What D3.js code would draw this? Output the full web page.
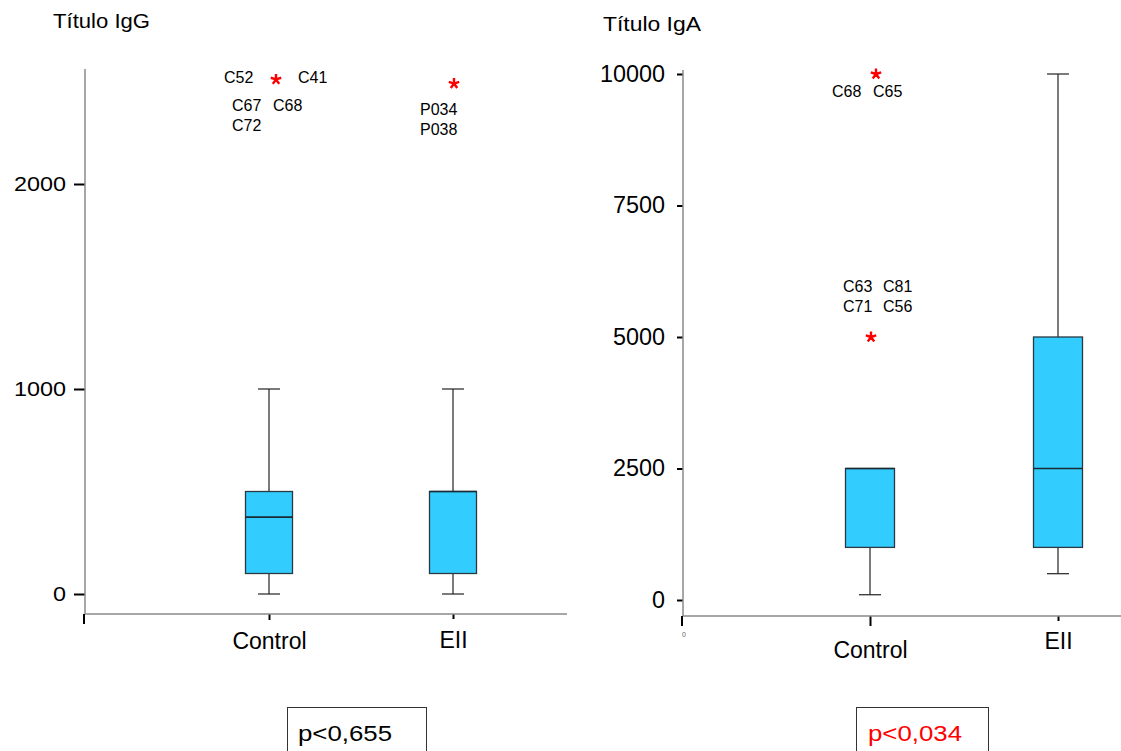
<!DOCTYPE html>
<html>
<head>
<meta charset="utf-8">
<script src="https://cdn.jsdelivr.net/npm/d3@7"></script>
<style>
  body { margin: 0; background: #fff; }
  svg { display: block; }
</style>
</head>
<body>
<script>
// données
const groups = ["Control", "EII"]

// IgG
const igGTicks = [0, 1000, 2000]
const igGLow = [0, 0]
const igGQ1 = [100, 100]
const igGMedian = [375, 500]
const igGQ3 = [500, 500]
const igGHigh = [1000, 1000]
const igGOutGroup = ["Control", "EII"]
const igGOutValue = [2510, 2490]
const igGOutLabels = [["C52", "C41", "C67", "C68", "C72"], ["P034", "P038"]]

// IgA
const igATicks = [0, 2500, 5000, 7500, 10000]
const igALow = [100, 500]
const igAQ1 = [1000, 1000]
const igAMedian = [2500, 2500]
const igAQ3 = [2500, 5000]
const igAHigh = [2500, 10000]
const igAOutGroup = ["Control", "Control"]
const igAOutValue = [10000, 5000]
const igAOutLabels = [["C68", "C65"], ["C63", "C81", "C71", "C56"]]

const pValues = ["p<0,655", "p<0,034"]
const pColors = ["#000", "#ff0000"]

const font = "'Liberation Sans', Arial, sans-serif"
const W = 1121, H = 751

const svg = d3.select("body").append("svg")
  .attr("width", W)
  .attr("height", H)
  .style("font-family", font)

// mise en page (décalages des étiquettes autour des astérisques)
const igGLabelOffsets = [
  [[-52, -2], [22, -2], [-44, 26], [-3, 26], [-44, 46]],
  [[-34, 25], [-34, 45]]
]
const igAStarShift = [6, 1]
const igGStarShift = [7, 1]
const igALabelOffsets = [
  [[-44, 17], [-3, 17]],
  [[-28, -51], [12, -51], [-28, -31], [12, -31]]
]

// astérisque à 5 branches
const asterisque = {
  draw(context, size) {
    const r = Math.sqrt(size) / 2
    for (let k = 0; k < 5; k++) {
      const a = -Math.PI / 2 + k * 2 * Math.PI / 5
      context.moveTo(0, 0)
      context.lineTo(r * Math.cos(a), r * Math.sin(a))
    }
  }
}

const panels = [
  {
    title: "Título IgG", titleX: 53, titleY: 28, titleLen: 97,
    axisX: 85, axisTop: 69, baseY: 614, axisRight: 567,
    yDomain: [0, 2000], yRange: [594, 184], xRange: [269, 453],
    ticks: igGTicks, tickLen: 11, tickPad: 8, tickFont: 21,
    boxW: 47, capW: 22, cornerTick: 10, catTicks: [6, 5], catDy: [2, 1],
    low: igGLow, q1: igGQ1, med: igGMedian, q3: igGQ3, high: igGHigh,
    outGroup: igGOutGroup, outValue: igGOutValue, outLabels: igGOutLabels,
    starShift: igGStarShift, labelOffsets: igGLabelOffsets,
    tinyZero: false
  },
  {
    title: "Título IgA", titleX: 603, titleY: 31, titleLen: 98,
    axisX: 683, axisTop: 70, baseY: 616, axisRight: 1121,
    yDomain: [0, 10000], yRange: [600, 74], xRange: [870, 1058],
    ticks: igATicks, tickLen: 6, tickPad: 12, tickFont: 23,
    boxW: 49, capW: 22, cornerTick: 10, catTicks: [10, 5], catDy: [9, 0],
    low: igALow, q1: igAQ1, med: igAMedian, q3: igAQ3, high: igAHigh,
    outGroup: igAOutGroup, outValue: igAOutValue, outLabels: igAOutLabels,
    starShift: igAStarShift, labelOffsets: igALabelOffsets,
    tinyZero: true
  }
]

panels.forEach(p => dessinerPanneau(p))

function dessinerPanneau(p) {
  const g = svg.append("g")

  const y = d3.scaleLinear().domain(p.yDomain).range(p.yRange)
  const x = d3.scalePoint().domain(groups).range(p.xRange)

  // titre
  g.append("text")
    .attr("x", p.titleX)
    .attr("y", p.titleY)
    .attr("font-size", 20)
    .attr("textLength", p.titleLen)
    .attr("lengthAdjust", "spacingAndGlyphs")
    .text(p.title)

  // axe Y
  const yAxis = d3.axisLeft(y)
    .tickValues(p.ticks)
    .tickFormat(d3.format("d"))
    .tickSize(p.tickLen)
    .tickPadding(p.tickPad)
  const gy = g.append("g")
    .attr("transform", "translate(" + p.axisX + ",0)")
    .call(yAxis)
  gy.select(".domain").remove()
  gy.selectAll(".tick line").attr("stroke", "#000").attr("stroke-width", 2)
  gy.selectAll(".tick text")
    .attr("fill", "#000")
    .attr("font-family", font)
    .attr("font-size", p.tickFont)
    .attr("textLength", d => String(d).length * 13)
    .attr("lengthAdjust", "spacingAndGlyphs")

  g.append("line")
    .attr("x1", p.axisX).attr("x2", p.axisX)
    .attr("y1", p.axisTop).attr("y2", p.baseY)
    .attr("stroke", "#8a8a8a").attr("stroke-width", 1.5)

  // axe X
  const xAxis = d3.axisBottom(x).tickSize(0).tickPadding(17)
  const gx = g.append("g")
    .attr("transform", "translate(0," + p.baseY + ")")
    .call(xAxis)
  gx.select(".domain").remove()
  gx.selectAll(".tick line").remove()
  gx.selectAll(".tick").append("line")
    .attr("y1", 0).attr("y2", (d, i) => p.catTicks[i])
    .attr("stroke", "#000").attr("stroke-width", 2)
  gx.selectAll(".tick text")
    .attr("fill", "#000")
    .attr("font-family", font)
    .attr("font-size", 23)
    .attr("y", (d, i) => 17 + p.catDy[i])

  g.append("line")
    .attr("x1", p.axisX).attr("x2", p.axisRight)
    .attr("y1", p.baseY).attr("y2", p.baseY)
    .attr("stroke", "#8a8a8a").attr("stroke-width", 1.5)
  g.append("line")
    .attr("x1", p.axisX - 1).attr("x2", p.axisX - 1)
    .attr("y1", p.baseY).attr("y2", p.baseY + p.cornerTick)
    .attr("stroke", "#000").attr("stroke-width", 2)

  if (p.tinyZero) {
    g.append("text")
      .attr("x", p.axisX - 1).attr("y", p.baseY + 21)
      .attr("font-size", 7).attr("fill", "#666")
      .text("0")
  }

  // boîtes
  const stats = groups.map((grp, i) => ({
    grp: grp, low: p.low[i], q1: p.q1[i], med: p.med[i], q3: p.q3[i], high: p.high[i]
  }))

  const boites = g.selectAll(".boite").data(stats).enter().append("g").attr("class", "boite")

  // moustaches
  boites.append("line")
    .attr("x1", d => x(d.grp)).attr("x2", d => x(d.grp))
    .attr("y1", d => y(d.low)).attr("y2", d => y(d.q1))
    .attr("stroke", "#222").attr("stroke-width", 1.2)
  boites.append("line")
    .attr("x1", d => x(d.grp) - p.capW / 2).attr("x2", d => x(d.grp) + p.capW / 2)
    .attr("y1", d => y(d.low)).attr("y2", d => y(d.low))
    .attr("stroke", "#222").attr("stroke-width", 1.2)
  boites.filter(d => d.high > d.q3).append("line")
    .attr("x1", d => x(d.grp)).attr("x2", d => x(d.grp))
    .attr("y1", d => y(d.q3)).attr("y2", d => y(d.high))
    .attr("stroke", "#222").attr("stroke-width", 1.2)
  boites.filter(d => d.high > d.q3).append("line")
    .attr("x1", d => x(d.grp) - p.capW / 2).attr("x2", d => x(d.grp) + p.capW / 2)
    .attr("y1", d => y(d.high)).attr("y2", d => y(d.high))
    .attr("stroke", "#222").attr("stroke-width", 1.2)

  boites.append("rect")
    .attr("x", d => x(d.grp) - p.boxW / 2)
    .attr("width", p.boxW)
    .attr("y", d => y(d.q3))
    .attr("height", d => y(d.q1) - y(d.q3))
    .attr("fill", "#33ccff")
    .attr("stroke", "#2a3a44").attr("stroke-width", 1.3)
  boites.append("line")
    .attr("x1", d => x(d.grp) - p.boxW / 2).attr("x2", d => x(d.grp) + p.boxW / 2)
    .attr("y1", d => y(d.med)).attr("y2", d => y(d.med))
    .attr("stroke", "#1a2a33").attr("stroke-width", 1.6)

  // valeurs extrêmes
  p.outValue.forEach((v, i) => {
    const cx = x(p.outGroup[i]) + p.starShift[i]
    const cy = y(v)
    g.append("path")
      .attr("transform", "translate(" + cx + "," + cy + ")")
      .attr("d", d3.symbol().type(asterisque).size(120)())
      .attr("stroke", "#ff0000")
      .attr("stroke-width", 2.4)
      .attr("fill", "none")
    p.outLabels[i].forEach((lab, j) => {
      const off = p.labelOffsets[i][j]
      g.append("text")
        .attr("x", cx + off[0]).attr("y", cy + off[1] + 6)
        .attr("font-size", 16)
        .attr("fill", "#000")
        .text(lab)
    })
  })
}

// encadrés des valeurs p
const pBox = [{ x: 287, w: 139, tx: 298 }, { x: 856, w: 132, tx: 868 }]
pValues.forEach((t, i) => {
  svg.append("rect")
    .attr("x", pBox[i].x + 0.5).attr("y", 707.5)
    .attr("width", pBox[i].w).attr("height", 60)
    .attr("fill", "none").attr("stroke", "#333").attr("stroke-width", 1)
  svg.append("text")
    .attr("x", pBox[i].tx).attr("y", 741)
    .attr("font-size", 22)
    .attr("textLength", 94)
    .attr("lengthAdjust", "spacingAndGlyphs")
    .attr("fill", pColors[i])
    .text(t)
})
</script>
</body>
</html>
